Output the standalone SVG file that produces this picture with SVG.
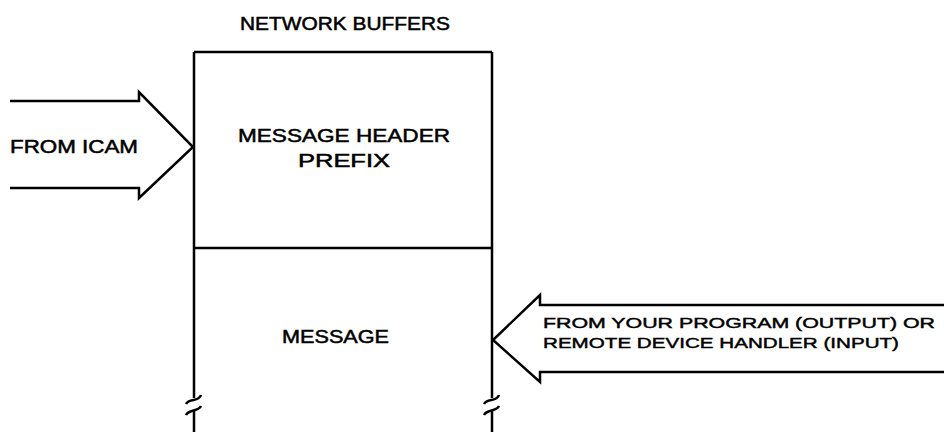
<svg xmlns="http://www.w3.org/2000/svg" width="944" height="432" viewBox="0 0 944 432">
<style>
.ln{fill:none;stroke:#000;stroke-width:2.5;stroke-linejoin:miter;stroke-linecap:butt}
.t{font-family:"Liberation Sans",Arial,sans-serif;font-size:18px;fill:#000;stroke:#000;stroke-width:0.5}
.s{font-family:"Liberation Sans",Arial,sans-serif;font-size:15.5px;fill:#000;stroke:#000;stroke-width:0.45}
</style>
<rect width="944" height="432" fill="#fff"/>
<g id="title">
<text class="t" x="240" y="30" textLength="210" lengthAdjust="spacingAndGlyphs">NETWORK BUFFERS</text>
</g>
<g id="buffer">
<path class="ln" d="M194 52 H492 M194 248 H492 M194 52 V398 M492 52 V398"/>
<path class="ln" d="M186 404 C189 398 199 402 201 395"/>
<path class="ln" d="M186 415 C189 409 198 412 201 406"/>
<path class="ln" d="M194 410 V432"/>
<path class="ln" d="M484 404 C487 398 497 402 499 395"/>
<path class="ln" d="M484 415 C487 409 496 412 499 406"/>
<path class="ln" d="M492 410 V432"/>
</g>
<g id="header">
<text class="t" x="238" y="142" textLength="212" lengthAdjust="spacingAndGlyphs">MESSAGE HEADER</text>
<text class="t" x="298" y="167" textLength="92" lengthAdjust="spacingAndGlyphs">PREFIX</text>
</g>
<g id="message">
<text class="t" x="282" y="343" textLength="107" lengthAdjust="spacingAndGlyphs">MESSAGE</text>
</g>
<g id="connectors">
<g id="arrow-icam">
<path class="ln" d="M10 101 H139 V92 L193 147 L139 198 V188 H10"/>
<text class="t" x="10" y="153" textLength="128" lengthAdjust="spacingAndGlyphs">FROM ICAM</text>
</g>
<g id="arrow-program">
<path class="ln" d="M944 305 H540 V295 L493 340 L540 382 V372 H944"/>
<text class="s" x="543" y="328" textLength="392" lengthAdjust="spacingAndGlyphs">FROM YOUR PROGRAM (OUTPUT) OR</text>
<text class="s" x="543" y="348" textLength="356" lengthAdjust="spacingAndGlyphs">REMOTE DEVICE HANDLER (INPUT)</text>
</g>
</g>
</svg>
